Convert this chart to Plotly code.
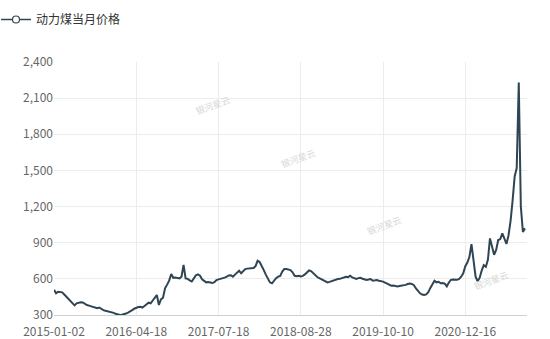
import plotly.graph_objects as go

series_name = "动力煤当月价格"
tick_labels = ["2015-01-02", "2016-04-18", "2017-07-18", "2018-08-28", "2019-10-10", "2020-12-16"]
points_per_tick = 40

price = [
    510, 480, 493, 490, 488, 470, 452, 440, 420, 400,
    380, 397, 402, 405, 404, 392, 383, 378, 372, 369,
    362, 356, 362, 348, 340, 336, 332, 330, 327, 318,
    310, 304, 300, 302, 305, 312, 320, 327, 340, 352,
    360, 366, 369, 362, 375, 392, 402, 397, 418, 445,
    466, 383, 430, 443, 521, 552, 585, 640, 609, 612,
    606, 604, 618, 715, 604, 600, 588, 578, 604, 630,
    637, 626, 596, 580, 571, 574, 571, 565, 572, 590,
    596, 599, 602, 610, 618, 628, 630, 618, 635, 650,
    668, 646, 668, 681, 685, 687, 688, 690, 705, 750,
    740, 712, 673, 635, 595, 571, 563, 585, 606, 618,
    625, 660, 681, 681, 678, 673, 655, 625, 622, 626,
    620, 625, 637, 658, 670, 665, 646, 628, 615, 606,
    598, 590, 578, 570, 575, 582, 590, 597, 599, 600,
    605, 612, 618, 614, 626, 612, 604, 599, 606, 609,
    601, 596, 590, 595, 599, 585, 588, 590, 584, 582,
    577, 568, 560, 546, 543, 544, 538, 536, 541, 543,
    543, 550, 557, 562, 558, 548, 520, 495, 480, 470,
    466, 471, 490, 525, 550, 585, 571, 576, 563, 565,
    560, 538, 570, 592, 595, 592, 592, 600, 618, 646,
    705, 735, 783, 889, 760, 618, 580, 610, 670, 714,
    700, 760, 936, 870, 800, 840, 922, 930, 977, 935,
    890, 960, 1080, 1250, 1450, 1520, 2230, 1200, 990, 1019,
]

y_ticks = [300, 600, 900, 1200, 1500, 1800, 2100, 2400]

line_color = "#2f4554"
idx = list(range(len(price)))
tick_pos = [i * points_per_tick for i in range(len(tick_labels))]

W, H = 550, 339
ML, MR, MT, MB = 54, 23, 62, 24
PW = W - ML - MR
PH = H - MT - MB

fig = go.Figure()
fig.add_trace(go.Scatter(
    x=idx, y=price, mode="lines", showlegend=False,
    line=dict(color=line_color, width=2), hoverinfo="skip",
))
fig.add_trace(go.Scatter(
    x=[None], y=[None], mode="lines+markers", name=series_name,
    line=dict(color=line_color, width=1.5),
    marker=dict(symbol="circle", size=7, color="white", line=dict(color=line_color, width=1.2)),
))

wm = [(191, 91), (298, 158), (406, 225), (513, 295)]
for (px, py) in wm:
    fig.add_annotation(
        x=(px - ML) / PW, y=(H - MB - py) / PH, xref="paper", yref="paper",
        text="银河星云", showarrow=False, textangle=-20,
        font=dict(size=9, color="#d8d8d8", family="Noto Sans CJK SC"),
    )

fig.update_layout(
    width=W, height=H,
    margin=dict(l=ML, r=MR, t=MT, b=MB, autoexpand=False),
    paper_bgcolor="white", plot_bgcolor="white",
    font=dict(family="Noto Sans CJK SC, Noto Sans, sans-serif", size=12, color="#666"),
    legend=dict(
        x=(-4 - ML) / PW, y=1 + (MT - 5) / PH, xanchor="left", yanchor="top",
        font=dict(size=12, color="#333"), bgcolor="rgba(0,0,0,0)",
        itemwidth=30,
    ),
    xaxis=dict(
        range=[0, 230], tickmode="array", tickvals=tick_pos, ticktext=tick_labels,
        showgrid=True, gridcolor="#ececec", gridwidth=1,
        showline=True, linecolor="#d0d0d0", linewidth=1,
        ticks="", zeroline=False, tickangle=0, automargin=False,
        ticklabelstandoff=6,
        tickfont=dict(size=12, color="#666"),
    ),
    yaxis=dict(
        range=[300, 2400], tickmode="array", tickvals=y_ticks, tickformat=",",
        showgrid=True, gridcolor="#ececec", gridwidth=1,
        showline=False, ticks="", zeroline=False, automargin=False,
        tickfont=dict(size=12, color="#666"),
    ),
)

fig.write_html("out.html")
